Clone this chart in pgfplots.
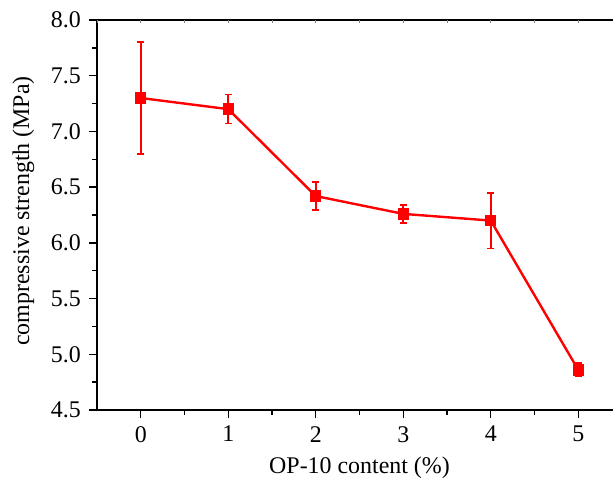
\documentclass[border=0pt]{standalone}
\usepackage{fontspec}
\setmainfont{Liberation Serif}
\usepackage{pgfplots}
\pgfplotsset{compat=1.18}

\pgfplotstableread{
x y e
0 7.30 0.50
1 7.20 0.13
2 6.42 0.125
3 6.26 0.08
4 6.20 0.25
5 4.86 0.06
}\strength

\begin{document}
\fontsize{24}{28}\selectfont
\begin{tikzpicture}
\begin{axis}[
  scale only axis, width=525bp, height=390bp,
  xmin=-0.5, xmax=5.5, ymin=4.5, ymax=8,
  xtick={0,1,2,3,4,5}, minor x tick num=1,
  ytick={4.5,5,5.5,6,6.5,7,7.5,8}, minor y tick num=1,
  xtick pos=bottom, ytick pos=left, tick align=outside,
  major tick length=8bp, minor tick length=4.5bp,
  axis line style={line width=1.5bp, black},
  every tick/.style={line width=1.3bp, black},
  /pgf/number format/assume math mode=true,
  yticklabel style={/pgf/number format/.cd, fixed, fixed zerofill, precision=1},
  tick label style={font=\fontsize{24}{28}\selectfont},
  xlabel={OP-10 content (\%)}, ylabel={compressive strength (MPa)},
  every axis x label/.style={at={(axis description cs:0.5,-0.147)}, anchor=center, font=\fontsize{24}{28}\selectfont},
  every axis y label/.style={at={(axis description cs:-0.14,0.51)}, anchor=center, rotate=90, font=\fontsize{24}{28}\selectfont},
]
\pgfplotsinvokeforeach{-0.5,0,0.5,1,1.5,2,2.5,3,3.5,4,4.5,5,5.5}{
  \draw[line width=0.6bp, gray] (axis cs:#1,8) -- (axis cs:#1,7.975);
}
\addplot[red, line width=2.4bp, mark=square*, mark size=4.5bp,
  error bars/.cd, y dir=both, y explicit,
  error bar style={red, line width=1.6bp},
  error mark options={red, rotate=90, mark size=3.6bp, line width=1.6bp}]
  table[x=x, y=y, y error=e] {\strength};
\end{axis}
\pgfresetboundingbox
\path (-97bp,-70bp) rectangle (516bp,410bp);
\end{tikzpicture}
\end{document}
